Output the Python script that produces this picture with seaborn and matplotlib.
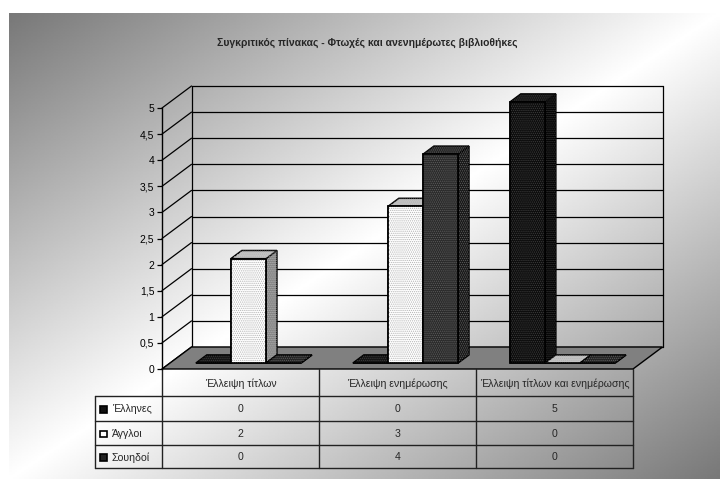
import numpy as np
import pandas as pd
import matplotlib
matplotlib.use("Agg")
import matplotlib.pyplot as plt
import seaborn as sns
from matplotlib.patches import Polygon, Rectangle
from matplotlib.ticker import FuncFormatter
from matplotlib.transforms import blended_transform_factory

# ---- data -------------------------------------------------------------
title = "Συγκριτικός πίνακας - Φτωχές και ανενημέρωτες βιβλιοθήκες"
categories = ["Έλλειψη τίτλων", "Έλλειψη ενημέρωσης", "Έλλειψη τίτλων και ενημέρωσης"]
series = ["Έλληνες", "Άγγλοι", "Σουηδοί"]
greeks = [0, 0, 5]
english = [2, 3, 0]
swedes = [0, 4, 0]
y_ticks = [0, 0.5, 1, 1.5, 2, 2.5, 3, 3.5, 4, 4.5, 5]

values = [greeks, english, swedes]
df = pd.DataFrame({
    "Κατηγορία": np.tile(categories, len(series)),
    "Χώρα": np.repeat(series, len(categories)),
    "Τιμή": np.concatenate(values),
})

# face colours per series: front, side, top, dots, legend key
styles = {
    "Έλληνες": dict(front="#0c0c0c", side="#030303", top="#141414", dots="#3c3c3c", key="#111111"),
    "Άγγλοι": dict(front="#ffffff", side="#848484", top="#c4c4c4", dots="#b4b4b4", key="#ffffff"),
    "Σουηδοί": dict(front="#2a2a2a", side="#181818", top="#222222", dots="#5c5c5c", key="#222222"),
}

sns.set_style("white")
plt.rcParams["font.family"] = ["Liberation Sans", "DejaVu Sans"]
plt.rcParams["hatch.linewidth"] = 0.6

W, H = 720, 479
fig = plt.figure(figsize=(W / 100, H / 100), dpi=100)

# ---- background: diagonal dark-white-dark gradient ----------------------
bg = fig.add_axes([0, 0, 1, 1])
bg.set_xlim(0, W)
bg.set_ylim(H, 0)
bg.axis("off")
gx0, gy0 = 9, 13
u = np.linspace(0, 1, 400)[None, :]
v = np.linspace(0, 1, 300)[:, None]
dark = 0.47
grad = dark + (1 - dark) * (1 - np.abs(u + v - 1))
bg.imshow(grad, cmap="gray", vmin=0, vmax=1, extent=(gx0, W, H, gy0),
          interpolation="bilinear", aspect="auto", zorder=0)
bg.text(367, 43, title, ha="center", va="center", fontsize=7.5, fontweight="bold")

# ---- main plot (front plane of the box) ---------------------------------
ax_l, ax_b, ax_w, ax_h = 162, 369, 471, 261   # pixels (left, baseline, width, height)
ax = fig.add_axes([ax_l / W, (H - ax_b) / H, ax_w / W, ax_h / H])
ax.set_zorder(1)
ax.patch.set_alpha(0)

sns.barplot(data=df, x="Κατηγορία", y="Τιμή", hue="Χώρα", order=categories,
            hue_order=series, palette=[styles[s]["front"] for s in series],
            width=0.67, saturation=1, edgecolor="black", linewidth=1.1,
            errorbar=None, legend=False, ax=ax)

ax.set_xlim(-0.5, len(categories) - 0.5)
ax.set_ylim(0, 5)
ax.set_xlabel("")
ax.set_ylabel("")
ax.set_xticks([])
ax.set_yticks(y_ticks)
ax.yaxis.set_major_formatter(FuncFormatter(lambda t, p: f"{t:g}".replace(".", ",")))
ax.tick_params(axis="y", length=3.6, width=0.9, pad=2, labelsize=7.5, colors="black", left=True)
for side in ("top", "right", "bottom"):
    ax.spines[side].set_visible(False)
ax.spines["left"].set_color("black")
ax.spines["left"].set_linewidth(1.0)

# depth of the box in data units
px_x = ax_w / len(categories)
px_y = ax_h / 5
DX, DY = 29.5 / px_x, 22.0 / px_y
x_lo, x_hi = -0.5, len(categories) - 0.5

# back wall with gridlines, and side-wall diagonals
for t in y_ticks:
    ax.plot([x_lo, x_lo + DX], [t, t + DY], color="black", lw=0.9, clip_on=False, zorder=1)
    ax.plot([x_lo + DX, x_hi + DX], [t + DY, t + DY], color="black", lw=0.9, clip_on=False, zorder=1)
ax.plot([x_lo + DX, x_lo + DX], [DY, 5 + DY], color="black", lw=0.9, clip_on=False, zorder=1)
ax.plot([x_hi + DX, x_hi + DX], [DY, 5 + DY], color="black", lw=0.9, clip_on=False, zorder=1)

# floor
ax.add_patch(Polygon([(x_lo, 0), (x_hi, 0), (x_hi + DX, DY), (x_lo + DX, DY)], closed=True,
                     facecolor="#808080", edgecolor="black", lw=1.0, clip_on=False, zorder=2))

# turn the flat bars into boxes standing inside the floor
f_front, f_back = 0.27, 0.64
ox, oy = f_front * DX, f_front * DY
ddx, ddy = (f_back - f_front) * DX, (f_back - f_front) * DY
dots = "." * 8

for s_idx, (name, cont) in enumerate(zip(series, ax.containers)):
    st = styles[name]
    for bar in cont:
        x0, w, h = bar.get_x(), bar.get_width(), bar.get_height()
        base_z = 3 + (x0 + 1) * 0.5
        bar.set_x(x0 + ox)
        bar.set_y(oy)
        bar.set_zorder(base_z + 0.02)
        bar.set_clip_on(False)
        xl, xr = x0 + ox, x0 + ox + w
        top_y = oy + h
        side = [(xr, oy), (xr + ddx, oy + ddy), (xr + ddx, top_y + ddy), (xr, top_y)]
        top = [(xl, top_y), (xr, top_y), (xr + ddx, top_y + ddy), (xl + ddx, top_y + ddy)]
        for verts, col in ((side, st["side"]), (top, st["top"])):
            ax.add_patch(Polygon(verts, closed=True, facecolor=col, edgecolor="black",
                                 lw=1.1, clip_on=False, zorder=base_z + 0.01))
            ax.add_patch(Polygon(verts, closed=True, fill=False, edgecolor=st["dots"],
                                 lw=0, hatch=dots, clip_on=False, zorder=base_z + 0.015))
        if h > 0:
            ax.add_patch(Rectangle((xl, oy), w, h, fill=False, edgecolor=st["dots"], lw=0,
                                   hatch=dots, clip_on=False, zorder=base_z + 0.021))
            ax.add_patch(Rectangle((xl, oy), w, h, fill=False, edgecolor="black", lw=1.1,
                                   clip_on=False, zorder=base_z + 0.022))

# ---- data table ---------------------------------------------------------
tr = blended_transform_factory(ax.transData, bg.transData)
row_tops = [369, 396, 421, 445, 468]
lab_left = x_lo - 67 / px_x
lc = "#222222"
for yy in row_tops[1:]:
    ax.plot([lab_left, x_hi], [yy, yy], color=lc, lw=1.0, transform=tr, clip_on=False)
ax.plot([lab_left, lab_left], [row_tops[1], row_tops[-1]], color=lc, lw=1.0, transform=tr, clip_on=False)
for i in range(len(categories) + 1):
    xx = x_lo + i
    ax.plot([xx, xx], [row_tops[0], row_tops[-1]], color=lc, lw=1.0, transform=tr, clip_on=False)

for i, cat in enumerate(categories):
    ax.text(i, (row_tops[0] + row_tops[1]) / 2 + 1, cat, transform=tr, ha="center", va="center",
            fontsize=7.6)
for r, (name, vals) in enumerate(zip(series, values)):
    yc = (row_tops[r + 1] + row_tops[r + 2]) / 2 + 1
    for i, val in enumerate(vals):
        ax.text(i, yc, f"{val}", transform=tr, ha="center", va="center", fontsize=7.6)
    bg.add_patch(Rectangle((100, yc - 3.5), 6.5, 6.5, facecolor=styles[name]["key"],
                           edgecolor="black", lw=1.2, zorder=5))
    bg.text(112, yc, name, ha="left", va="center", fontsize=7.6, zorder=5)

fig.savefig("out.png", dpi=100)
